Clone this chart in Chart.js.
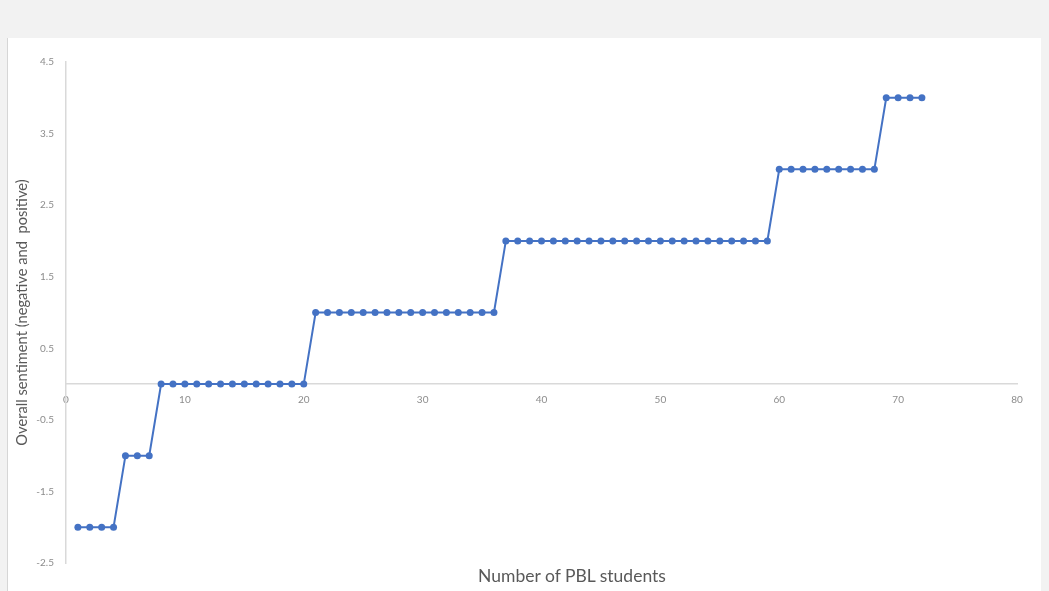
<!DOCTYPE html>
<html>
<head>
<meta charset="utf-8">
<script src="https://cdn.jsdelivr.net/npm/chart.js@4.4.1/dist/chart.umd.min.js"></script>
<style>
    body { margin: 0; background: #f2f2f2; width: 1049px; height: 591px; overflow: hidden; position: relative; font-family: Lato, "Open Sans", sans-serif; }
    .panel { position: absolute; left: 7px; top: 38px; width: 1033px; height: 553px; background: #fff; border-left: 1px solid #d6d6d6; }
    .x-title { position: absolute; left: 372px; top: 565px; width: 400px; text-align: center; font-size: 17.5px; color: #595959; }
</style>
</head>
<body>
<div class="panel">
    <canvas id="chartSentimiento"></canvas>
</div>
<div class="x-title">Number of PBL students</div>
<script>
// datos
const estudiantes = [1,2,3,4,5,6,7,8,9,10,11,12,13,14,15,16,17,18,19,20,21,22,23,24,25,26,27,28,29,30,31,32,33,34,35,36,
    37,38,39,40,41,42,43,44,45,46,47,48,49,50,51,52,53,54,55,56,57,58,59,60,61,62,63,64,65,66,67,68,69,70,71,72];
const sentimiento = [-2,-2,-2,-2,-1,-1,-1,0,0,0,0,0,0,0,0,0,0,0,0,0,1,1,1,1,1,1,1,1,1,1,1,1,1,1,1,1,
    2,2,2,2,2,2,2,2,2,2,2,2,2,2,2,2,2,2,2,2,2,2,2,3,3,3,3,3,3,3,3,3,4,4,4,4];
const ticksY = [-2.5, -1.5, -0.5, 0.5, 1.5, 2.5, 3.5, 4.5];

const puntos = estudiantes.map((e, i) => ({ x: e, y: sentimiento[i] }));
const azul = '#4472C4';

const canvas = document.getElementById('chartSentimiento');
canvas.width = 1033;
canvas.height = 553;

new Chart(canvas, {
    type: 'line',
    data: {
        datasets: [{
            label: 'Sentiment',
            data: puntos,
            borderColor: azul,
            backgroundColor: azul,
            borderWidth: 2,
            pointRadius: 3.5,
            pointBorderWidth: 0,
            tension: 0
        }]
    },
    options: {
        responsive: false,
        animation: false,
        layout: { padding: { left: 0, right: 24, top: 24, bottom: 28 } },
        plugins: { legend: { display: false }, tooltip: { enabled: false } },
        scales: {
            x: {
                type: 'linear',
                position: { y: 0 },
                min: 0,
                max: 80,
                grid: { display: false, drawTicks: false },
                border: { display: true, color: '#d9d9d9', width: 1.5 },
                ticks: { stepSize: 10, padding: 10, maxRotation: 0, color: '#8c8c8c', font: { family: 'Lato', size: 10 } }
            },
            y: {
                min: -2.5,
                max: 4.5,
                afterBuildTicks: function(scale) {
                    scale.ticks = ticksY.map(v => ({ value: v }));
                },
                afterFit: function(scale) { scale.width = 58; },
                grid: { display: false, drawTicks: false },
                border: { display: true, color: '#d9d9d9', width: 1.5 },
                ticks: { padding: 12, color: '#8c8c8c', font: { family: 'Lato', size: 10 } },
                title: {
                    display: true,
                    text: 'Overall sentiment (negative and  positive)',
                    color: '#595959',
                    font: { family: 'Lato', size: 14.7 },
                    padding: { top: 5, bottom: 0 }
                }
            }
        }
    }
});
</script>
</body>
</html>
